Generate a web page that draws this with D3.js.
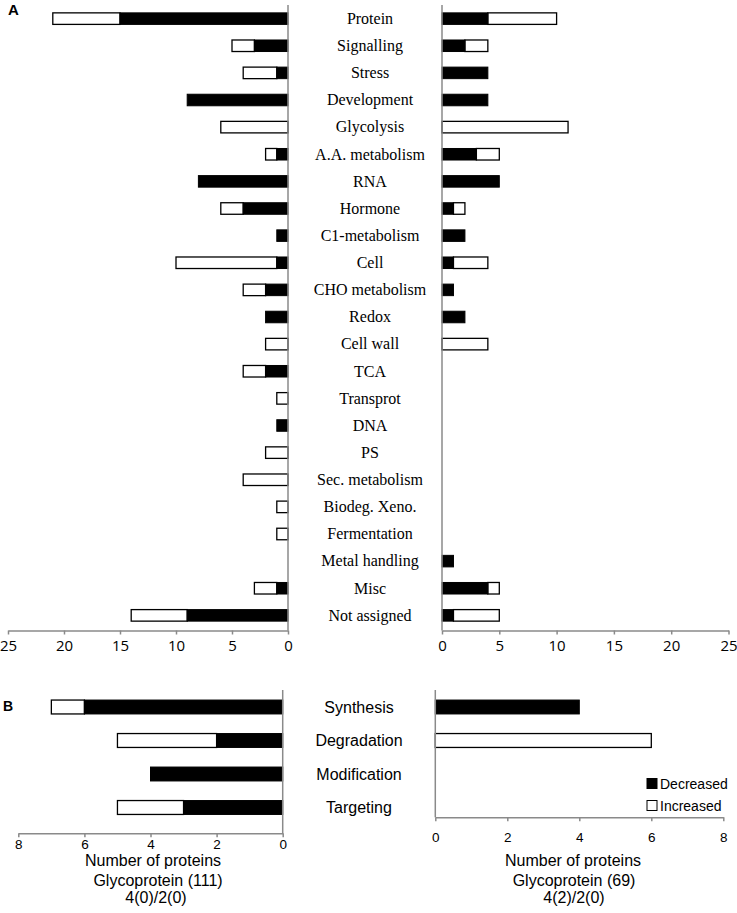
<!DOCTYPE html>
<html>
<head>
<meta charset="utf-8">
<script src="https://cdn.jsdelivr.net/npm/d3@7"></script>
<style>
  html, body { margin: 0; padding: 0; background: #fff; }
  svg { display: block; }
  .axis path, .axis line { stroke: #8a8a8a; stroke-width: 1.5; }
</style>
</head>
<body>
<div id="chart"></div>
<script>
// Panel A : catégories fonctionnelles
const categoriesA = ["Protein", "Signalling", "Stress", "Development", "Glycolysis",
    "A.A. metabolism", "RNA", "Hormone", "C1-metabolism", "Cell", "CHO metabolism",
    "Redox", "Cell wall", "TCA", "Transprot", "DNA", "PS", "Sec. metabolism",
    "Biodeg. Xeno.", "Fermentation", "Metal handling", "Misc", "Not assigned"];
const leftDecA  = [15, 3, 1, 9, 0, 1, 8, 4, 1, 1, 2, 2, 0, 2, 0, 1, 0, 0, 0, 0, 0, 1, 9];
const leftIncA  = [6, 2, 3, 0, 6, 1, 0, 2, 0, 9, 2, 0, 2, 2, 1, 0, 2, 4, 1, 1, 0, 2, 5];
const rightDecA = [4, 2, 4, 4, 0, 3, 5, 1, 2, 1, 1, 2, 0, 0, 0, 0, 0, 0, 0, 0, 1, 4, 1];
const rightIncA = [6, 2, 0, 0, 11, 2, 0, 1, 0, 3, 0, 0, 4, 0, 0, 0, 0, 0, 0, 0, 0, 1, 4];
const ticksA = [0, 5, 10, 15, 20, 25];

// Panel B : glycoprotéines
const categoriesB = ["Synthesis", "Degradation", "Modification", "Targeting"];
const leftDecB  = [6, 2, 4, 3];
const leftIncB  = [1, 3, 0, 2];
const rightDecB = [4, 0, 0, 0];
const rightIncB = [0, 6, 0, 0];
const ticksB = [0, 2, 4, 6, 8];

const width = 737;
const height = 913;

const svg = d3.select("#chart").append("svg")
    .attr("width", width)
    .attr("height", height)
    .attr("viewBox", [0, 0, width, height]);

const serif = "'Liberation Serif', 'Times New Roman', serif";
const sans = "'Liberation Sans', Arial, sans-serif";

/**
 * Dessine un demi-graphique de barres empilées (décrues en noir, hausses en blanc)
 */
function drawHalf(opts) {
    const { x, y, cats, dec, inc, axisY, ticks, tickFont, tickPad } = opts;
    const g = svg.append("g");

    const rows = cats.map((c, i) => ({ cat: c, dec: dec[i], inc: inc[i] }));

    // barres blanches (hausse), empilées après les noires
    g.selectAll("rect.inc")
        .data(rows.filter(d => d.inc > 0))
        .join("rect")
        .attr("class", "inc")
        .attr("x", d => Math.min(x(d.dec), x(d.dec + d.inc)))
        .attr("y", d => y(d.cat))
        .attr("width", d => Math.abs(x(d.dec + d.inc) - x(d.dec)))
        .attr("height", y.bandwidth())
        .attr("fill", "#fff")
        .attr("stroke", "#000")
        .attr("stroke-width", 1.3);

    g.selectAll("rect.dec")
        .data(rows.filter(d => d.dec > 0))
        .join("rect")
        .attr("class", "dec")
        .attr("x", d => Math.min(x(0), x(d.dec)))
        .attr("y", d => y(d.cat))
        .attr("width", d => Math.abs(x(d.dec) - x(0)))
        .attr("height", y.bandwidth())
        .attr("fill", "#000")
        .attr("stroke", "#000")
        .attr("stroke-width", 1);

    // axe vertical (ligne du zéro)
    g.append("line")
        .attr("x1", x(0)).attr("x2", x(0))
        .attr("y1", y.range()[0]).attr("y2", axisY)
        .attr("stroke", "#8a8a8a")
        .attr("stroke-width", 1.5);

    // axe horizontal
    g.append("g")
        .attr("class", "axis")
        .attr("transform", `translate(0,${axisY})`)
        .call(d3.axisBottom(x).tickValues(ticks).tickSize(4).tickSizeOuter(0).tickPadding(tickPad))
        .call(a => a.selectAll("text")
            .attr("fill", "#000")
            .style("font", tickFont));
    return g;
}

// ---- Panel A ----
const yA = d3.scaleBand()
    .domain(categoriesA)
    .range([5, 629])
    .paddingInner(0.575)
    .paddingOuter(0.29);

const xAL = d3.scaleLinear().domain([0, 25]).range([288, 8]);
const xAR = d3.scaleLinear().domain([0, 25]).range([442, 728.5]);
const tickFontA = "15px 'Open Sans', 'Noto Sans', sans-serif";

drawHalf({ x: xAL, y: yA, cats: categoriesA, dec: leftDecA, inc: leftIncA,
    axisY: 630.5, ticks: ticksA, tickFont: tickFontA, tickPad: 6 });
drawHalf({ x: xAR, y: yA, cats: categoriesA, dec: rightDecA, inc: rightIncA,
    axisY: 630.5, ticks: ticksA, tickFont: tickFontA, tickPad: 6 });

svg.append("g")
    .selectAll("text")
    .data(categoriesA)
    .join("text")
    .attr("x", 370)
    .attr("y", d => yA(d) + yA.bandwidth() / 2)
    .attr("dy", "0.33em")
    .attr("text-anchor", "middle")
    .style("font-family", serif)
    .style("font-size", "16px")
    .text(d => d);

svg.append("text")
    .attr("x", 8).attr("y", 14.5)
    .style("font", `bold 15px ${sans}`)
    .text("A");

// ---- Panel B ----
const yB = d3.scaleBand()
    .domain(categoriesB)
    .range([690, 824.5])
    .paddingInner(0.585)
    .paddingOuter(0.3);

const xBL = d3.scaleLinear().domain([0, 8]).range([282.7, 18.3]);
const xBR = d3.scaleLinear().domain([0, 8]).range([435.3, 723.3]);
const tickFontB = `13.5px ${sans}`;

drawHalf({ x: xBL, y: yB, cats: categoriesB, dec: leftDecB, inc: leftIncB,
    axisY: 833.3, ticks: ticksB, tickFont: tickFontB, tickPad: 2.5 });
drawHalf({ x: xBR, y: yB, cats: categoriesB, dec: rightDecB, inc: rightIncB,
    axisY: 817.3, ticks: ticksB, tickFont: tickFontB, tickPad: 11 });

svg.append("g")
    .selectAll("text")
    .data(categoriesB)
    .join("text")
    .attr("x", 359)
    .attr("y", d => yB(d) + yB.bandwidth() / 2)
    .attr("dy", "0.36em")
    .attr("text-anchor", "middle")
    .style("font-family", sans)
    .style("font-size", "16px")
    .text(d => d);

svg.append("text")
    .attr("x", 3).attr("y", 711)
    .style("font", `bold 14px ${sans}`)
    .text("B");

// titres sous les axes
const captions = [
    { x: 153, y: 865.5, t: "Number of proteins" },
    { x: 158, y: 886, t: "Glycoprotein (111)" },
    { x: 156, y: 903, t: "4(0)/2(0)" },
    { x: 573, y: 866, t: "Number of proteins" },
    { x: 574, y: 886, t: "Glycoprotein (69)" },
    { x: 574, y: 903, t: "4(2)/2(0)" }
];
svg.append("g")
    .selectAll("text")
    .data(captions)
    .join("text")
    .attr("x", d => d.x)
    .attr("y", d => d.y)
    .attr("text-anchor", "middle")
    .style("font-family", sans)
    .style("font-size", "16px")
    .text(d => d.t);

// légende
const legend = svg.append("g").attr("transform", "translate(647,778.5)");
const legendItems = [
    { label: "Decreased", fill: "#000" },
    { label: "Increased", fill: "#fff" }
];
const li = legend.selectAll("g")
    .data(legendItems)
    .join("g")
    .attr("transform", (d, i) => `translate(0,${i * 22})`);
li.append("rect")
    .attr("width", 10)
    .attr("height", 10)
    .attr("fill", d => d.fill)
    .attr("stroke", "#000")
    .attr("stroke-width", 1);
li.append("text")
    .attr("x", 13)
    .attr("y", 5)
    .attr("dy", "0.36em")
    .style("font-family", sans)
    .style("font-size", "14px")
    .text(d => d.label);
</script>
</body>
</html>
